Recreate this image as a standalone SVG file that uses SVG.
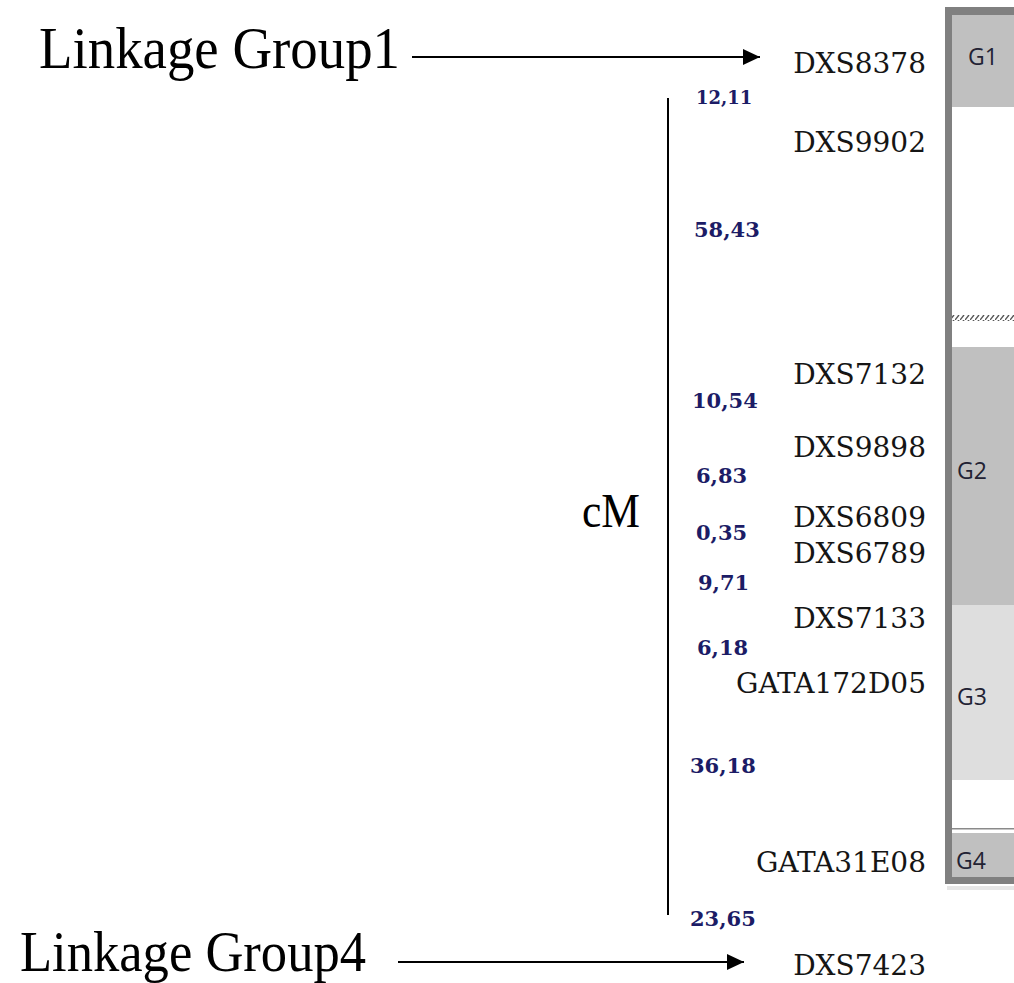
<svg xmlns="http://www.w3.org/2000/svg" width="1014" height="983" viewBox="0 0 1014 983">
  <defs>
    <style>
      .big { font-family: "Liberation Serif", "Times New Roman", serif; font-size: 60px; fill: #000; }
      .mk { font-family: "DejaVu Serif", "Liberation Serif", serif; font-size: 28px; fill: #151515; text-anchor: end; }
      .num { font-family: "DejaVu Serif", "Liberation Serif", serif; font-size: 21px; font-weight: bold; fill: #1c1c66; }
      .grp { font-family: "Open Sans", "Liberation Sans", sans-serif; font-size: 23px; fill: #222233; }
      .conn { stroke: #000; stroke-width: 2; fill: none; }
    </style>
    <marker id="arrow" viewBox="0 0 17 16" refX="17" refY="8" markerWidth="17" markerHeight="16" markerUnits="userSpaceOnUse" orient="auto">
      <path d="M0,0 L17,8 L0,16 Z" fill="#000"/>
    </marker>
    <pattern id="hatch" width="5" height="5" patternUnits="userSpaceOnUse">
      <path d="M0,5 L4,0" stroke="#555" stroke-width="1.4"/>
    </pattern>
  </defs>

  <rect width="1014" height="983" fill="#fff"/>

  <!-- chromosome ideogram with linkage group bands -->
  <g id="ideogram">
    <rect x="947" y="886" width="67" height="4" fill="#e6e6e6"/>
    <rect x="945" y="7" width="75" height="877" fill="#808080"/>
    <rect x="952" y="15" width="70" height="862" fill="#fff"/>
    <rect x="952" y="15" width="70" height="92" fill="#c0c0c0"/>
    <rect x="952" y="315" width="70" height="6" fill="url(#hatch)"/>
    <rect x="952" y="347" width="70" height="258" fill="#c0c0c0"/>
    <rect x="952" y="605" width="70" height="175" fill="#dedede"/>
    <rect x="952" y="828" width="70" height="1.5" fill="#8a8a8a"/>
    <rect x="952" y="833" width="70" height="44" fill="#c0c0c0"/>
  </g>
  <g id="group-labels">
    <text class="grp" x="968" y="65">G1</text>
    <text class="grp" x="957" y="479">G2</text>
    <text class="grp" x="957" y="705">G3</text>
    <text class="grp" x="956" y="869">G4</text>
  </g>

  <!-- linkage group captions -->
  <g id="lg1">
    <text class="big" x="39" y="68" textLength="361" lengthAdjust="spacingAndGlyphs">Linkage Group1</text>
  </g>
  <g id="lg4">
    <text class="big" x="20" y="971" style="font-size:56px" textLength="346" lengthAdjust="spacingAndGlyphs">Linkage Group4</text>
  </g>
  <g id="cm">
    <text class="big" x="582" y="527" style="font-size:48px" textLength="58" lengthAdjust="spacingAndGlyphs">cM</text>
  </g>

  <!-- connectors -->
  <g id="connectors">
    <line class="conn" x1="412" y1="57" x2="760" y2="57" marker-end="url(#arrow)"/>
    <line class="conn" x1="398" y1="962" x2="744" y2="962" marker-end="url(#arrow)"/>
    <line class="conn" x1="668" y1="98" x2="668" y2="915"/>
  </g>

  <!-- marker names -->
  <g id="markers">
    <text class="mk" x="926" y="73">DXS8378</text>
    <text class="mk" x="926" y="152">DXS9902</text>
    <text class="mk" x="926" y="384">DXS7132</text>
    <text class="mk" x="926" y="457">DXS9898</text>
    <text class="mk" x="926" y="527">DXS6809</text>
    <text class="mk" x="926" y="563">DXS6789</text>
    <text class="mk" x="926" y="628">DXS7133</text>
    <text class="mk" x="926" y="693">GATA172D05</text>
    <text class="mk" x="926" y="872">GATA31E08</text>
    <text class="mk" x="926" y="975">DXS7423</text>
  </g>

  <!-- genetic distances -->
  <g id="distances">
    <text class="num" x="696" y="104" style="font-size:18px">12,11</text>
    <text class="num" x="694" y="237">58,43</text>
    <text class="num" x="692" y="408">10,54</text>
    <text class="num" x="696" y="483">6,83</text>
    <text class="num" x="696" y="540">0,35</text>
    <text class="num" x="698" y="590">9,71</text>
    <text class="num" x="697" y="655">6,18</text>
    <text class="num" x="690" y="773">36,18</text>
    <text class="num" x="690" y="926">23,65</text>
  </g>
</svg>
